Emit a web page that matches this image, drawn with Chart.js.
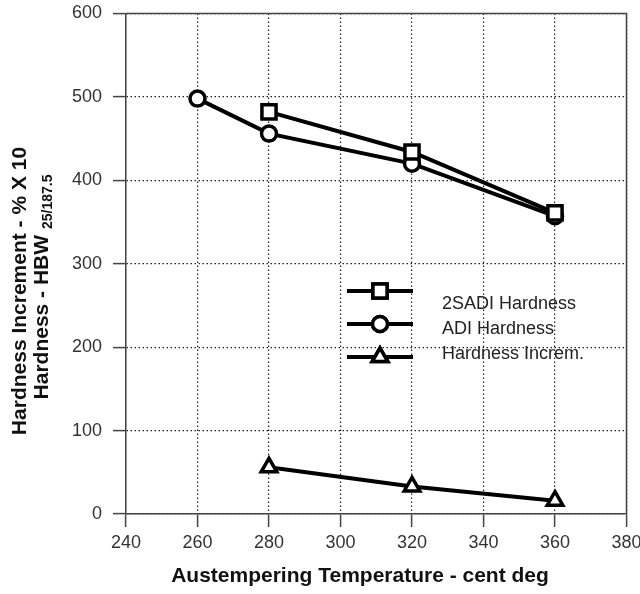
<!DOCTYPE html>
<html>
<head>
<meta charset="utf-8">
<script src="https://cdn.jsdelivr.net/npm/chart.js@4.4.1/dist/chart.umd.min.js"></script>
<style>
  body { margin: 0; background: #fff; }
  #wrap { width: 640px; height: 594px; }
</style>
</head>
<body>
<div id="wrap"><canvas id="myChart" width="640" height="594"></canvas></div>
<script>
// datos
const temps2SADI = [280, 320, 360];
const hardness2SADI = [482, 434, 361];
const tempsADI = [260, 280, 320, 360];
const hardnessADI = [498, 456, 420, 357];
const tempsIncrem = [280, 320, 360];
const hardnessIncrem = [56, 33, 16];
const xTicks = [240, 260, 280, 300, 320, 340, 360, 380];
const yTicks = [0, 100, 200, 300, 400, 500, 600];

const FONT = '"Liberation Sans", Arial, sans-serif';

function toPoints(xs, ys) {
    return xs.map((x, i) => ({ x: x, y: ys[i] }));
}

function serie(label, xs, ys, style, radius) {
    return {
        label: label,
        data: toPoints(xs, ys),
        borderColor: '#000',
        borderWidth: 4,
        pointStyle: style,
        pointRadius: radius,
        pointBorderWidth: 3.5,
        pointBackgroundColor: '#fff',
        pointBorderColor: '#000',
        tension: 0
    };
}

// marco superior/derecho, titulos de ejes y leyenda dentro del area
const extras = {
    id: 'extras',
    afterDraw(chart) {
        const ctx = chart.ctx;
        const a = chart.chartArea;
        ctx.save();
        ctx.strokeStyle = '#444';
        ctx.lineWidth = 1.5;
        ctx.beginPath();
        ctx.moveTo(a.left, a.top);
        ctx.lineTo(a.right, a.top);
        ctx.lineTo(a.right, a.bottom);
        ctx.stroke();

        // titulo eje x
        ctx.fillStyle = '#111';
        ctx.font = 'bold 21px ' + FONT;
        ctx.textAlign = 'center';
        ctx.textBaseline = 'middle';
        ctx.fillText('Austempering Temperature - cent deg', 360, 576);

        // titulo eje y (dos lineas, con subindice)
        ctx.save();
        ctx.translate(20, 291);
        ctx.rotate(-Math.PI / 2);
        ctx.fillText('Hardness Increment - % X 10', 0, 0);
        ctx.restore();

        ctx.save();
        ctx.translate(42, 287);
        ctx.rotate(-Math.PI / 2);
        const main = 'Hardness - HBW ';
        const sub = '25/187.5';
        ctx.font = 'bold 21px ' + FONT;
        const w1 = ctx.measureText(main).width;
        ctx.font = 'bold 14px ' + FONT;
        const w2 = ctx.measureText(sub).width;
        const start = -(w1 + w2) / 2;
        ctx.textAlign = 'left';
        ctx.font = 'bold 21px ' + FONT;
        ctx.fillText(main, start, 0);
        ctx.font = 'bold 14px ' + FONT;
        ctx.fillText(sub, start + w1, 6);
        ctx.restore();

        // leyenda
        const rows = [
            { ds: 0, y: 291, ty: 304 },
            { ds: 1, y: 324, ty: 329 },
            { ds: 2, y: 357, ty: 354 }
        ];
        ctx.font = '18px ' + FONT;
        ctx.textAlign = 'left';
        ctx.fillStyle = '#222';
        rows.forEach(r => {
            const ds = chart.data.datasets[r.ds];
            ctx.strokeStyle = '#000';
            ctx.lineWidth = 4;
            ctx.beginPath();
            ctx.moveTo(347, r.y);
            ctx.lineTo(413, r.y);
            ctx.stroke();
            ctx.fillStyle = '#fff';
            ctx.lineWidth = 3.5;
            Chart.helpers.drawPoint(ctx, { pointStyle: ds.pointStyle, radius: ds.pointRadius, borderWidth: 3.5 }, 380, r.y);
            ctx.fill();
            ctx.stroke();
            ctx.fillStyle = '#222';
            ctx.fillText(ds.label, 442, r.ty);
        });
        ctx.restore();
    }
};

const ctx = document.getElementById('myChart').getContext('2d');
const myChart = new Chart(ctx, {
    type: 'line',
    data: {
        datasets: [
            serie('2SADI Hardness', temps2SADI, hardness2SADI, 'rect', 10),
            serie('ADI Hardness', tempsADI, hardnessADI, 'circle', 7.5),
            serie('Hardness Increm.', tempsIncrem, hardnessIncrem, 'triangle', 9)
        ]
    },
    options: {
        responsive: false,
        animation: false,
        layout: { padding: { top: 11, right: 10, left: 0, bottom: 0 } },
        plugins: {
            legend: { display: false },
            tooltip: { enabled: false }
        },
        scales: {
            x: {
                type: 'linear',
                min: 240,
                max: 380,
                afterBuildTicks: s => { s.ticks = xTicks.map(v => ({ value: v })); },
                afterFit: s => { s.height = 80; s.paddingLeft = 0; s.paddingRight = 0; },
                ticks: {
                    color: '#333',
                    font: { family: FONT, size: 18 },
                    padding: 5,
                    maxRotation: 0
                },
                grid: {
                    color: '#222',
                    lineWidth: 1.2,
                    tickLength: 13,
                    tickColor: '#444',
                    tickWidth: 1.5
                },
                border: { color: '#444', width: 1.5, dash: [1.5, 2.5] }
            },
            y: {
                min: 0,
                max: 600,
                afterBuildTicks: s => { s.ticks = yTicks.map(v => ({ value: v })); },
                afterFit: s => { s.width = 126; s.paddingTop = 0; s.paddingBottom = 0; },
                ticks: {
                    color: '#333',
                    font: { family: FONT, size: 18 },
                    padding: 11
                },
                grid: {
                    color: '#222',
                    lineWidth: 1.2,
                    tickLength: 13,
                    tickColor: '#444',
                    tickWidth: 1.5
                },
                border: { color: '#444', width: 1.5, dash: [1.5, 2.5] }
            }
        }
    },
    plugins: [extras]
});
</script>
</body>
</html>
